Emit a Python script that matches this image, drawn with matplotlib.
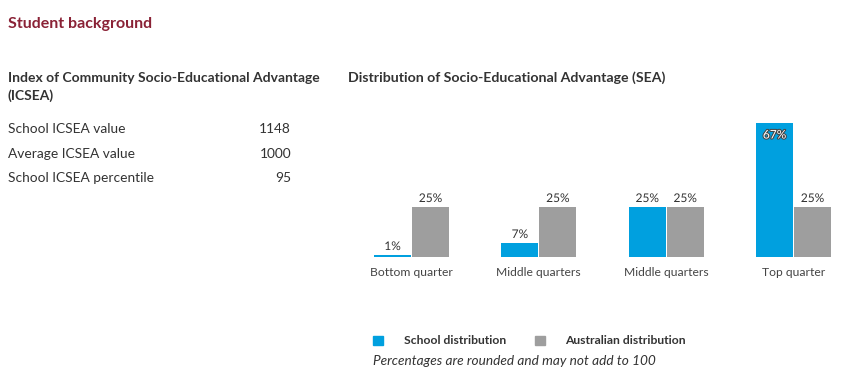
import numpy as np
import matplotlib.pyplot as plt
import matplotlib.patheffects as pe

plt.rcParams['font.family'] = ['Lato', 'DejaVu Sans']

categories = ['Bottom quarter', 'Middle quarters', 'Middle quarters', 'Top quarter']
school = [1, 7, 25, 67]
australia = [25, 25, 25, 25]
icsea_labels = ['School ICSEA value', 'Average ICSEA value', 'School ICSEA percentile']
icsea_values = ['1148', '1000', '95']

blue = '#00A0DF'
grey = '#9E9E9E'
dark = '#333333'

W, H = 865, 381
fig = plt.figure(figsize=(W / 100, H / 100), dpi=100)

def fx(px):
    return px / W

def fy(py):
    return 1 - py / H

# left panel text
fig.text(fx(8), fy(24), 'Student background', color='#8A2236', fontsize=11.5,
         fontweight='bold', va='center')
fig.text(fx(8), fy(78), 'Index of Community Socio-Educational Advantage',
         color=dark, fontsize=10, fontweight='bold', va='center')
fig.text(fx(8), fy(96), '(ICSEA)', color=dark, fontsize=10, fontweight='bold', va='center')
for i, (lab, val) in enumerate(zip(icsea_labels, icsea_values)):
    y = 129 + i * 24.5
    fig.text(fx(8), fy(y), lab, color=dark, fontsize=9.9, va='center')
    fig.text(fx(291), fy(y), val, color=dark, fontsize=9.9, va='center', ha='right')

fig.text(fx(348), fy(78), 'Distribution of Socio-Educational Advantage (SEA)',
         color=dark, fontsize=10.2, fontweight='bold', va='center')

# bar chart
left_px, right_px = 347.8, 844.4
base_px, top_px = 257, 117
ax = fig.add_axes([fx(left_px), fy(base_px), fx(right_px - left_px), (base_px - top_px) / H])
x = np.arange(len(categories))
w = 0.29
gap = 0.004
b1 = ax.bar(x - w / 2 - gap, school, w, color=blue)
b2 = ax.bar(x + w / 2 + gap, australia, w, color=grey)
ax.set_xlim(-0.5, 3.4)
ax.set_ylim(0, 70)
for s in ax.spines.values():
    s.set_visible(False)
ax.set_yticks([])
ax.set_xticks(x)
ax.set_xticklabels(categories, fontsize=8.7, color='#444444')
ax.tick_params(axis='x', length=0, pad=7)

halo = [pe.withStroke(linewidth=2, foreground='white')]
for rect, v in zip(b1, school):
    cx = rect.get_x() + rect.get_width() / 2
    if v > 50:
        ax.text(cx, v - 6, f'{v}%', ha='center', va='center', fontsize=8.6, color='white',
                path_effects=[pe.withStroke(linewidth=1.5, foreground='#444444')])
    else:
        ax.text(cx, v + 1.5, f'{v}%', ha='center', va='bottom', fontsize=8.6, color=dark,
                path_effects=halo)
for rect, v in zip(b2, australia):
    cx = rect.get_x() + rect.get_width() / 2
    ax.text(cx, v + 1.5, f'{v}%', ha='center', va='bottom', fontsize=8.6, color=dark,
            path_effects=halo)

# legend
fig.patches.append(plt.Rectangle((fx(373), fy(345)), fx(10), 9 / H, color=blue,
                                 transform=fig.transFigure))
fig.text(fx(404), fy(340), 'School distribution', fontsize=8.7, fontweight='bold',
         color=dark, va='center')
fig.patches.append(plt.Rectangle((fx(535), fy(345)), fx(10), 9 / H, color=grey,
                                 transform=fig.transFigure))
fig.text(fx(565), fy(340), 'Australian distribution', fontsize=8.7, fontweight='bold',
         color=dark, va='center')
fig.text(fx(373), fy(361), 'Percentages are rounded and may not add to 100',
         fontsize=9.8, style='italic', color=dark, va='center')

fig.savefig('out.png', dpi=100)
